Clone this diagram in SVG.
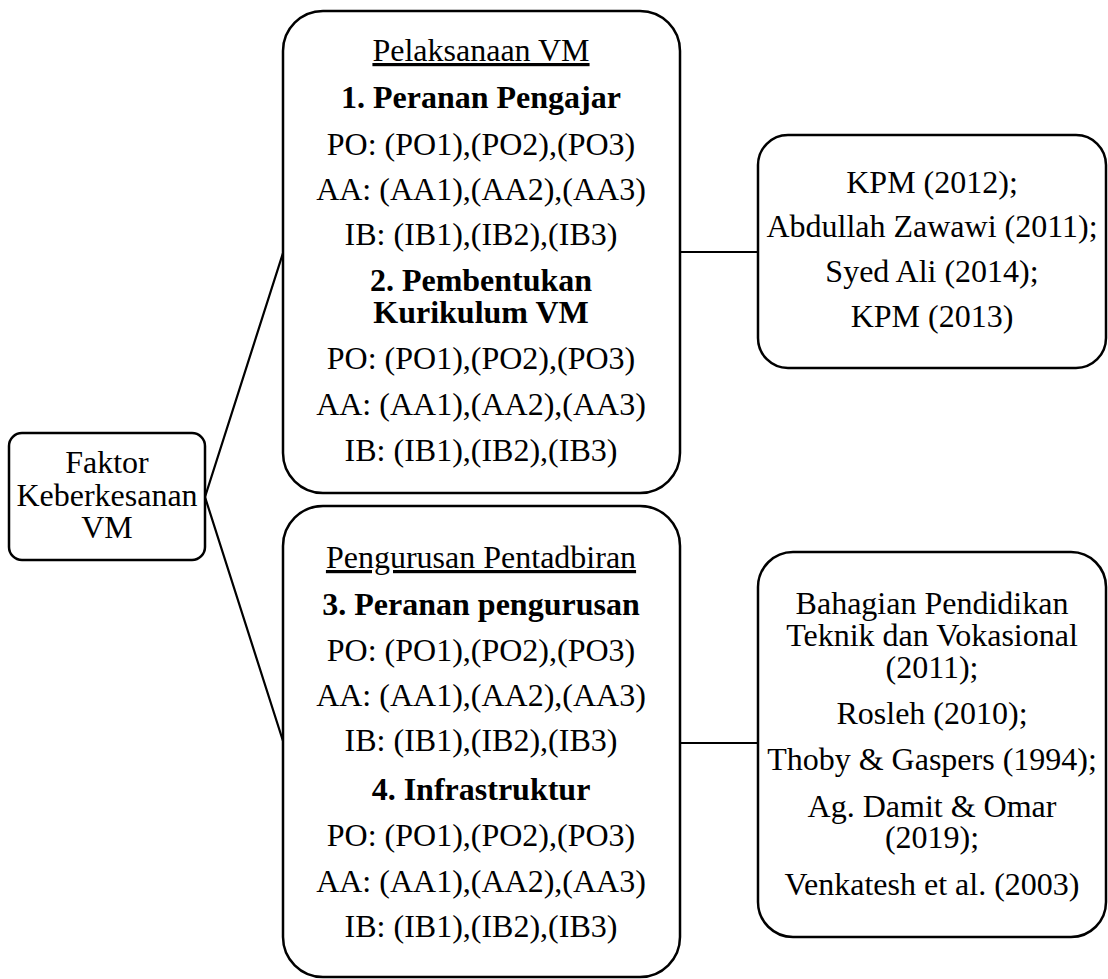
<svg xmlns="http://www.w3.org/2000/svg" width="1108" height="979" viewBox="0 0 1108 979">
  <style>
    .box { fill: #ffffff; stroke: #000000; stroke-width: 2.5; }
    .conn { fill: none; stroke: #000000; stroke-width: 2.2; }
    text { font-family: "Liberation Serif", "Times New Roman", serif; font-size: 32px; fill: #000000; text-anchor: middle; }
    .b { font-weight: bold; }
    .u { text-decoration: underline; }
  </style>
  <rect x="0" y="0" width="1108" height="979" fill="#ffffff"/>

  <!-- connectors -->
  <g id="connectors">
    <polyline class="conn" points="283,253 205,497 283,741"/>
    <line class="conn" x1="680" y1="252" x2="758" y2="252"/>
    <line class="conn" x1="680" y1="743" x2="758" y2="743"/>
  </g>

  <!-- root factor -->
  <g id="faktor">
    <rect class="box" x="9" y="433" width="196" height="127" rx="13"/>
    <text x="107" y="473">Faktor</text>
    <text x="107" y="506">Keberkesanan</text>
    <text x="107" y="538">VM</text>
  </g>

  <!-- implementation group -->
  <g id="pelaksanaan">
    <rect class="box" x="283" y="11" width="397" height="482" rx="40"/>
    <text class="u" x="481" y="61">Pelaksanaan VM</text>
    <text class="b" x="481" y="108">1. Peranan Pengajar</text>
    <text x="481" y="155">PO: (PO1),(PO2),(PO3)</text>
    <text x="481" y="200">AA: (AA1),(AA2),(AA3)</text>
    <text x="481" y="245">IB: (IB1),(IB2),(IB3)</text>
    <text class="b" x="481" y="291">2. Pembentukan</text>
    <text class="b" x="481" y="323">Kurikulum VM</text>
    <text x="481" y="369">PO: (PO1),(PO2),(PO3)</text>
    <text x="481" y="415">AA: (AA1),(AA2),(AA3)</text>
    <text x="481" y="461">IB: (IB1),(IB2),(IB3)</text>
  </g>

  <!-- administration group -->
  <g id="pengurusan">
    <rect class="box" x="283" y="506" width="397" height="471" rx="40"/>
    <text class="u" x="481" y="568">Pengurusan Pentadbiran</text>
    <text class="b" x="481" y="615">3. Peranan pengurusan</text>
    <text x="481" y="661">PO: (PO1),(PO2),(PO3)</text>
    <text x="481" y="706">AA: (AA1),(AA2),(AA3)</text>
    <text x="481" y="751">IB: (IB1),(IB2),(IB3)</text>
    <text class="b" x="481" y="800">4. Infrastruktur</text>
    <text x="481" y="846">PO: (PO1),(PO2),(PO3)</text>
    <text x="481" y="892">AA: (AA1),(AA2),(AA3)</text>
    <text x="481" y="937">IB: (IB1),(IB2),(IB3)</text>
  </g>

  <!-- references, implementation -->
  <g id="rujukan-1">
    <rect class="box" x="758" y="135" width="348" height="233" rx="30"/>
    <text x="932" y="193">KPM (2012);</text>
    <text x="932" y="237">Abdullah Zawawi (2011);</text>
    <text x="932" y="282">Syed Ali (2014);</text>
    <text x="932" y="327">KPM (2013)</text>
  </g>

  <!-- references, administration -->
  <g id="rujukan-2">
    <rect class="box" x="758" y="552" width="348" height="385" rx="35"/>
    <text x="932" y="614">Bahagian Pendidikan</text>
    <text x="932" y="646">Teknik dan Vokasional</text>
    <text x="932" y="678">(2011);</text>
    <text x="932" y="724">Rosleh (2010);</text>
    <text x="932" y="770">Thoby &amp; Gaspers (1994);</text>
    <text x="932" y="817">Ag. Damit &amp; Omar</text>
    <text x="932" y="848">(2019);</text>
    <text x="932" y="895">Venkatesh et al. (2003)</text>
  </g>
</svg>
